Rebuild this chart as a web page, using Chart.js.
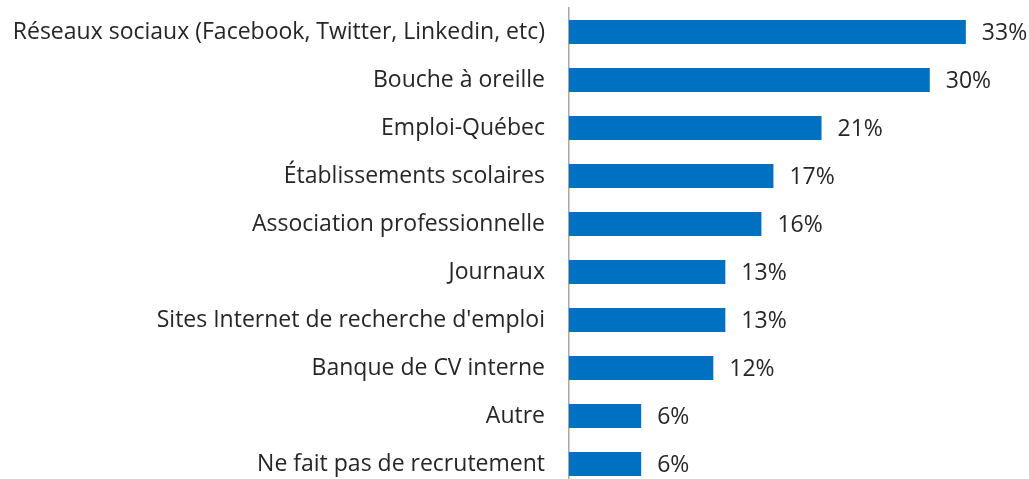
<!DOCTYPE html>
<html>
<head>
<meta charset="utf-8">
<script src="https://cdn.jsdelivr.net/npm/chart.js@4/dist/chart.umd.min.js"></script>
<style>
  html, body { margin: 0; padding: 0; background: #fff; overflow: hidden; }
  canvas { display: block; }
</style>
</head>
<body>
<canvas id="graphique" width="1029" height="488"></canvas>
<script>
// Catégories (sources de recrutement)
const categories = [
  "Réseaux sociaux (Facebook, Twitter, Linkedin, etc)",
  "Bouche à oreille",
  "Emploi-Québec",
  "Établissements scolaires",
  "Association professionnelle",
  "Journaux",
  "Sites Internet de recherche d'emploi",
  "Banque de CV interne",
  "Autre",
  "Ne fait pas de recrutement"
];

// Pourcentages
const pourcentages = [33, 30, 21, 17, 16, 13, 13, 12, 6, 6];

const police = "'Open Sans', 'DejaVu Sans', sans-serif";
const couleurTexte = '#262626';

// Étiquettes de valeur à droite des barres
const etiquettesValeurs = {
  id: 'etiquettesValeurs',
  afterDatasetsDraw(chart) {
    const ctx = chart.ctx;
    const meta = chart.getDatasetMeta(0);
    ctx.save();
    ctx.font = '400 23px ' + police;
    ctx.fillStyle = couleurTexte;
    ctx.textAlign = 'left';
    ctx.textBaseline = 'middle';
    meta.data.forEach((bar, i) => {
      ctx.fillText(pourcentages[i] + '%', bar.x + 16, bar.y + 1);
    });
    ctx.restore();
  }
};

const graphique = new Chart(document.getElementById('graphique'), {
  type: 'bar',
  data: {
    labels: categories,
    datasets: [{
      data: pourcentages,
      backgroundColor: '#0070C0',
      borderWidth: 0,
      barPercentage: 0.5,
      categoryPercentage: 1.0
    }]
  },
  options: {
    indexAxis: 'y',
    responsive: false,
    animation: false,
    layout: { padding: { top: 8, right: 0, bottom: 0, left: 0 } },
    plugins: {
      legend: { display: false },
      tooltip: { enabled: false }
    },
    scales: {
      x: {
        display: false,
        min: 0,
        max: 38.25
      },
      y: {
        afterFit(scale) {
          // largeur fixe et pas de marge verticale ajoutée par les étiquettes
          scale.width = 569;
          scale.paddingTop = 0;
          scale.paddingBottom = 0;
        },
        grid: { display: false, drawTicks: false },
        border: { display: true, color: '#a6a6a6', width: 1.5 },
        ticks: {
          padding: 24,
          color: couleurTexte,
          font: { family: police, size: 23, weight: '400' }
        }
      }
    }
  },
  plugins: [etiquettesValeurs]
});
</script>
</body>
</html>
